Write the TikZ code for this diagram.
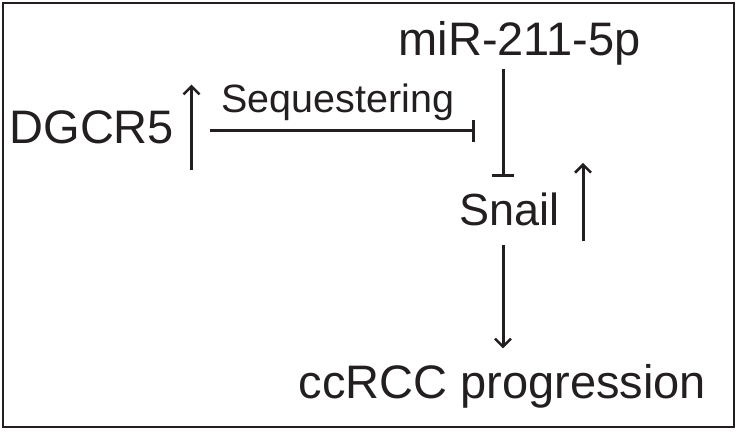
\documentclass[tikz,border=0pt]{standalone}
\usepackage{fontspec}
\setmainfont{Liberation Sans}
\usetikzlibrary{arrows.meta}
\definecolor{ink}{HTML}{231F20}

\begin{document}
\begin{tikzpicture}[x=1pt, y=-1pt, line width=3pt, color=ink,
	lbl/.style={inner sep=0pt, anchor=base west, font=\fontsize{47}{56}\selectfont},
	act/.style={-{Straight Barb[length=8pt,width=16pt,line width=2.5pt]}},
	inh/.style={-{Bar[width=22pt]}}]
	\useasboundingbox (0,0) rectangle (739,432);
	\draw[line width=2.5pt] (3,3) rectangle (734,427);

	\node[lbl] (dgcr) at (8,143) {DGCR5};
	\node[lbl, font=\fontsize{39.5}{47}\selectfont] (seq) at (220,112) {Sequestering};
	\node[lbl] (mir) at (397,55) {miR-211-5p};
	\node[lbl, font=\fontsize{45}{54}\selectfont] (snail) at (458,225) {Snail};
	\node[lbl] (ccrcc) at (297,398) {ccRCC progression};
	\coordinate (axis) at (503,0);

	\draw[act] ([shift={(16,25)}]dgcr.south east) -- ([shift={(16,-24)}]dgcr.north east);
	\draw[inh] ([shift={(-10,9)}]seq.south west) -- ([shift={(19,9)}]seq.south east);
	\draw[inh, shorten <=3pt, shorten >=14pt] (mir.south -| axis) -- (snail.north -| axis);
	\draw[act] ([shift={(22,14)}]snail.south east) -- ([shift={(22,-28)}]snail.north east);
	\draw[act, shorten <=18pt, shorten >=14pt] (snail.south -| axis) -- (ccrcc.north -| axis);
\end{tikzpicture}
\end{document}
